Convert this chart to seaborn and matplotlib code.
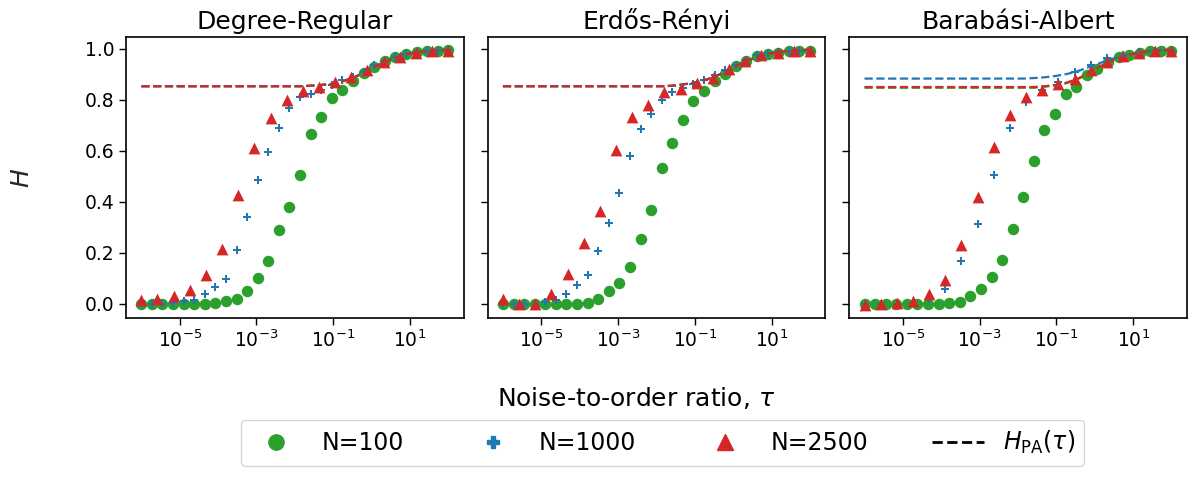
import numpy as np
import pandas as pd
import matplotlib
matplotlib.use("Agg")
import matplotlib.pyplot as plt
from matplotlib.lines import Line2D
from matplotlib.ticker import FixedLocator, NullLocator, LogFormatterSciNotation
import seaborn as sns

# ---- data -------------------------------------------------------------
panel_titles = ["Degree-Regular", "Erdős-Rényi", "Barabási-Albert"]
series_names = ["N=100", "N=1000", "N=2500"]
series_colors = ["#2ca02c", "#1f77b4", "#d62728"]

tau30 = np.logspace(-6, 2, 30)   # fine tau grid
tau20 = np.logspace(-6, 2, 20)   # coarse tau grid

# Degree-Regular
dr_n100 = [0.0, 0.0, 0.0, 0.0, 0.0, 0.0, 0.0, 0.003, 0.01, 0.02, 0.05, 0.10,
           0.17, 0.29, 0.38, 0.505, 0.667, 0.733, 0.805, 0.84, 0.874, 0.905,
           0.93, 0.95, 0.967, 0.98, 0.986, 0.99, 0.993, 0.996]
dr_n1000 = [0.0, 0.0, 0.0, 0.003, 0.01, 0.017, 0.04, 0.065, 0.098, 0.21,
            0.34, 0.486, 0.596, 0.69, 0.766, 0.81, 0.824, 0.838, 0.857, 0.876,
            0.89, 0.91, 0.935, 0.95, 0.967, 0.98, 0.986, 0.99, 0.993, 0.996]
dr_n2500 = [0.017, 0.02, 0.033, 0.056, 0.115, 0.215, 0.427, 0.61, 0.73, 0.80,
            0.835, 0.85, 0.87, 0.89, 0.915, 0.948, 0.967, 0.983, 0.99, 0.99]
dr_hpa = [0.853] * 16 + [0.855, 0.858, 0.862, 0.872, 0.886, 0.905, 0.928,
                         0.948, 0.965, 0.978, 0.986, 0.991, 0.994, 0.996]

# Erdős-Rényi
er_n100 = [0.0, 0.0, 0.0, 0.0, 0.0, 0.0, 0.0, 0.0, 0.004, 0.02, 0.05, 0.082,
           0.145, 0.254, 0.37, 0.534, 0.629, 0.72, 0.795, 0.836, 0.874, 0.902,
           0.932, 0.952, 0.97, 0.98, 0.984, 0.99, 0.993, 0.993]
er_n1000 = [0.0, 0.0, 0.0, 0.0, 0.007, 0.017, 0.04, 0.073, 0.112, 0.206,
            0.316, 0.435, 0.58, 0.687, 0.746, 0.80, 0.83, 0.848, 0.863, 0.879,
            0.896, 0.915, 0.937, 0.954, 0.974, 0.983, 0.987, 0.99, 0.993, 0.993]
er_n2500 = [0.02, 0.0, 0.0, 0.04, 0.118, 0.24, 0.366, 0.603, 0.733, 0.78,
            0.83, 0.843, 0.866, 0.887, 0.922, 0.952, 0.974, 0.983, 0.99, 0.99]
er_hpa = [0.853] * 16 + [0.855, 0.86, 0.866, 0.876, 0.89, 0.91, 0.932, 0.952,
                         0.967, 0.979, 0.987, 0.991, 0.994, 0.996]

# Barabási-Albert
ba_n100 = [0.0, 0.0, 0.0, 0.0, 0.0, 0.0, 0.0, 0.0, 0.002, 0.008, 0.033,
           0.059, 0.105, 0.173, 0.293, 0.418, 0.561, 0.681, 0.746, 0.822,
           0.85, 0.898, 0.922, 0.948, 0.967, 0.977, 0.984, 0.99, 0.993, 0.993]
ba_n1000 = [0.0, 0.0, 0.0, 0.005, 0.02, 0.06, 0.167, 0.314, 0.505, 0.6875,
            0.79, 0.84, 0.87, 0.91, 0.937, 0.964, 0.977, 0.987, 0.993, 0.993]
ba_n2500 = [-0.005, 0.0, 0.004, 0.01, 0.04, 0.092, 0.232, 0.42, 0.613, 0.74,
            0.81, 0.84, 0.863, 0.883, 0.918, 0.948, 0.971, 0.983, 0.99, 0.99]
ba_hpa_n100 = [0.847] * 17 + [0.851, 0.856, 0.864, 0.878, 0.898, 0.923,
                              0.946, 0.963, 0.976, 0.985, 0.99, 0.994, 0.996]
ba_hpa_n1000 = [0.883] * 16 + [0.885, 0.888, 0.893, 0.90, 0.91, 0.925, 0.94,
                               0.955, 0.968, 0.978, 0.986, 0.991, 0.994, 0.996]
ba_hpa_n2500 = [0.850] * 17 + [0.853, 0.858, 0.866, 0.88, 0.90, 0.925, 0.947,
                               0.963, 0.976, 0.985, 0.99, 0.994, 0.996]

panels = [
    {"pts": [(tau30, dr_n100), (tau30, dr_n1000), (tau20, dr_n2500)],
     "hpa": [dr_hpa, dr_hpa, dr_hpa]},
    {"pts": [(tau30, er_n100), (tau30, er_n1000), (tau20, er_n2500)],
     "hpa": [er_hpa, er_hpa, er_hpa]},
    {"pts": [(tau30, ba_n100), (tau20, ba_n1000), (tau20, ba_n2500)],
     "hpa": [ba_hpa_n100, ba_hpa_n1000, ba_hpa_n2500]},
]

# ---- style ------------------------------------------------------------
sns.set_style("ticks")
plt.rcParams["font.family"] = ["DejaVu Sans"]
plt.rcParams["axes.edgecolor"] = "black"
plt.rcParams["xtick.color"] = "black"
plt.rcParams["ytick.color"] = "black"
plt.rcParams["text.color"] = "black"

markers = ["o", "P", "^"]
sizes = [68, 32, 72]

fig, axes = plt.subplots(1, 3, figsize=(11.94, 4.8), dpi=100, sharey=True)
fig.subplots_adjust(left=0.1055, right=0.994, top=0.923, bottom=0.3375,
                    wspace=0.071)

for ax, title, panel in zip(axes, panel_titles, panels):
    for k in range(3):
        x, y = panel["pts"][k]
        df = pd.DataFrame({"tau": x, "H": y})
        sns.scatterplot(data=df, x="tau", y="H", ax=ax, color=series_colors[k],
                        marker=markers[k], s=sizes[k], linewidth=0, zorder=3 + k,
                        legend=False)
    for k in range(3):
        dfl = pd.DataFrame({"tau": tau30, "H": panel["hpa"][k]})
        sns.lineplot(data=dfl, x="tau", y="H", ax=ax, color=series_colors[k],
                     linestyle="--", linewidth=1.6, zorder=6 + k, legend=False)
    ax.set_xscale("log")
    ax.xaxis.set_major_locator(FixedLocator([1e-5, 1e-3, 1e-1, 1e1]))
    ax.xaxis.set_major_formatter(LogFormatterSciNotation())
    ax.xaxis.set_minor_locator(NullLocator())
    ax.set_title(title, fontsize=18)
    ax.set_xlabel("")
    ax.set_ylabel("")
    ax.set_yticks([0.0, 0.2, 0.4, 0.6, 0.8, 1.0])
    ax.tick_params(labelsize=13.5, width=1.0, length=5)
    for sp in ax.spines.values():
        sp.set_linewidth(1.2)
        sp.set_color("black")

axes[0].set_ylabel(r"$H$", fontsize=18, labelpad=36)
fig.text(0.533, 0.171, r"Noise-to-order ratio, $\tau$", fontsize=18,
         ha="center", va="center")

handles = [
    Line2D([], [], linestyle="none", marker="o", color=series_colors[0], markersize=11),
    Line2D([], [], linestyle="none", marker="P", color=series_colors[1], markersize=8),
    Line2D([], [], linestyle="none", marker="^", color=series_colors[2], markersize=12),
    Line2D([], [], linestyle="--", color="black", linewidth=2),
]
labels = series_names + [r"$H_{\mathrm{PA}}(\tau)$"]
fig.legend(handles, labels, loc="lower center", bbox_to_anchor=(0.555, 0.005),
           ncol=4, fontsize=17, handlelength=2.2, columnspacing=2.7,
           frameon=True, edgecolor="#cccccc")

fig.savefig("out.png", dpi=100)
